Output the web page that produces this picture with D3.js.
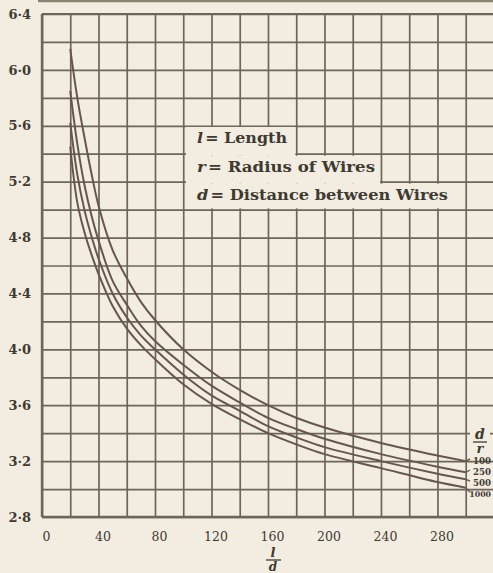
<!DOCTYPE html>
<html>
<head>
<meta charset="utf-8">
<script src="https://cdn.jsdelivr.net/npm/d3@7"></script>
<style>
  html, body { margin: 0; padding: 0; background: #f3ede1; }
  svg { display: block; }
</style>
</head>
<body>
<svg id="chart" width="493" height="573"></svg>
<script>
// ---- data ----
const lengthRatio = [20, 25, 30, 35, 40, 50, 60, 70, 80, 100, 120, 140, 160, 180, 200, 240, 280, 300];
const curve100  = [6.15, 5.80, 5.52, 5.26, 5.03, 4.71, 4.51, 4.34, 4.21, 4.00, 3.84, 3.71, 3.60, 3.51, 3.44, 3.33, 3.24, 3.20];
const curve250  = [5.85, 5.47, 5.18, 4.96, 4.78, 4.49, 4.32, 4.17, 4.06, 3.89, 3.74, 3.62, 3.51, 3.43, 3.36, 3.25, 3.16, 3.12];
const curve500  = [5.62, 5.25, 5.00, 4.81, 4.65, 4.40, 4.23, 4.10, 4.00, 3.82, 3.67, 3.56, 3.45, 3.37, 3.30, 3.20, 3.11, 3.07];
const curve1000 = [5.45, 5.05, 4.84, 4.68, 4.54, 4.31, 4.15, 4.03, 3.93, 3.75, 3.61, 3.50, 3.40, 3.32, 3.25, 3.15, 3.05, 3.01];
const seriesNames = ["100", "250", "500", "1000"];
const xTickLabels = [0, 40, 80, 120, 160, 200, 240, 280];
const yTickLabels = [2.8, 3.2, 3.6, 4.0, 4.4, 4.8, 5.2, 5.6, 6.0, 6.4];
const legendLines = [
  ["l", "= Length"],
  ["r", "= Radius of Wires"],
  ["d", "= Distance between Wires"]
];

const series = [curve100, curve250, curve500, curve1000];

const svg = d3.select("#chart");
const W = 493, H = 573;
const bg = "#f3ede1";
const gridColor = "#6b655a";
const curveColor = "#66574c";
const textColor = "#3f3a32";

svg.append("rect").attr("width", W).attr("height", H).attr("fill", bg);

const x = d3.scaleLinear().domain([0, 300]).range([42, 465.7]);
const y = d3.scaleLinear().domain([2.8, 6.4]).range([517, 14]);

// scan artifact line at very top
svg.append("line").attr("x1", 38).attr("x2", W).attr("y1", 1).attr("y2", 1)
  .attr("stroke", "#8b8272").attr("stroke-width", 2.5);

// grid: vertical lines every 20, horizontal every 0.2
const xGrid = d3.range(0, 301, 20);
const yGrid = d3.range(0, 19).map(i => +(2.8 + i * 0.2).toFixed(1));

const gx = svg.append("g")
  .attr("transform", `translate(0,${y(2.8)})`)
  .call(d3.axisBottom(x).tickValues(xGrid).tickSize(-(y(2.8) - y(6.4))).tickFormat(""));
gx.select(".domain").remove();
gx.selectAll(".tick line").attr("stroke", gridColor).attr("stroke-width", 1.7);

const gy = svg.append("g")
  .attr("transform", `translate(${x(0)},0)`)
  .call(d3.axisLeft(y).tickValues(yGrid).tickSize(-(W - x(0))).tickFormat(""));
gy.select(".domain").remove();
gy.selectAll(".tick line").attr("stroke", gridColor).attr("stroke-width", 1.7);

// heavier axis frame lines
svg.append("line").attr("x1", x(0)).attr("x2", x(0)).attr("y1", y(6.4)).attr("y2", y(2.8))
  .attr("stroke", gridColor).attr("stroke-width", 2.4);
svg.append("line").attr("x1", x(0)).attr("x2", W).attr("y1", y(2.8)).attr("y2", y(2.8))
  .attr("stroke", gridColor).attr("stroke-width", 2.4);
svg.append("line").attr("x1", x(0)).attr("x2", W).attr("y1", y(6.4)).attr("y2", y(6.4))
  .attr("stroke", gridColor).attr("stroke-width", 2);

// tick labels
const fmt = v => v.toFixed(1).replace(".", "\u00b7");
const yl = svg.append("g")
  .attr("transform", `translate(${x(0) - 8},0)`)
  .call(d3.axisLeft(y).tickValues(yTickLabels).tickSize(0).tickFormat(fmt));
yl.select(".domain").remove();
yl.selectAll("text")
  .attr("font-family", "'DejaVu Serif', serif").attr("font-weight", "bold")
  .attr("font-size", 13).attr("fill", textColor);

const xl = svg.append("g")
  .attr("transform", `translate(4,${y(2.8) + 12})`)
  .call(d3.axisBottom(x).tickValues(xTickLabels).tickSize(0).tickFormat(d => d));
xl.select(".domain").remove();
xl.selectAll("text")
  .attr("font-family", "'DejaVu Serif', serif")
  .attr("font-size", 12.5).attr("fill", textColor);

// legend masks (stepped, hiding grid behind text)
const masks = [
  { x0: 186, x1: 180, y0: 5.6, y1: 5.4 },
  { x0: 186, x1: 240, y0: 5.4, y1: 5.2 },
  { x0: 186, x1: 300, y0: 5.2, y1: 5.0 }
];
masks.forEach((m, i) => {
  const top = y(m.y0) + (i === 0 ? 1.2 : 2);
  const bottom = y(m.y1) + (i === 2 ? -1.2 : 2);
  svg.append("rect")
    .attr("x", m.x0).attr("y", top)
    .attr("width", x(m.x1) - m.x0 - 0.9).attr("height", bottom - top)
    .attr("fill", bg);
});

// curves
const line = d3.line()
  .x((d, i) => x(lengthRatio[i]))
  .y(d => y(d))
  .curve(d3.curveCatmullRom.alpha(0.5));

svg.append("g").selectAll("path")
  .data(series)
  .join("path")
  .attr("d", d => line(d))
  .attr("fill", "none")
  .attr("stroke", curveColor)
  .attr("stroke-width", 2);

// legend text
const legendY = [143, 172, 200];
const legendWidth = [90, 178, 251];
legendLines.forEach((l, i) => {
  const t = svg.append("text")
    .attr("x", 197).attr("y", legendY[i])
    .attr("font-family", "'DejaVu Serif', serif")
    .attr("font-size", 15).attr("fill", textColor)
    .attr("textLength", legendWidth[i]).attr("lengthAdjust", "spacingAndGlyphs");
  t.append("tspan").attr("font-style", "italic").attr("font-weight", "bold").text(l[0]);
  t.append("tspan").attr("font-weight", "bold").attr("dx", 2).text(l[1]);
});

// right-side d/r labels
const rg = svg.append("g");
const lastIdx = lengthRatio.length - 1;
const labelY = [460, 471, 482, 493];
series.forEach((s, i) => {
  rg.append("line")
    .attr("x1", x(300)).attr("y1", y(s[lastIdx]))
    .attr("x2", 470).attr("y2", labelY[i] - 1)
    .attr("stroke", curveColor).attr("stroke-width", 1.4);
  rg.append("text")
    .attr("x", 491).attr("y", labelY[i] + 3.5)
    .attr("text-anchor", "end")
    .attr("font-family", "'DejaVu Serif', serif").attr("font-weight", "bold")
    .attr("font-size", seriesNames[i].length === 4 ? 7.8 : 8.6).attr("fill", textColor)
    .text(seriesNames[i]);
});
// d/r fraction
rg.append("rect").attr("x", 470).attr("y", 424).attr("width", 20).attr("height", 30).attr("fill", bg);
rg.append("text").attr("x", 480).attr("y", 439).attr("text-anchor", "middle")
  .attr("font-family", "'DejaVu Serif', serif").attr("font-style", "italic").attr("font-weight", "bold")
  .attr("font-size", 14).attr("fill", textColor).text("d");
rg.append("line").attr("x1", 473).attr("x2", 487).attr("y1", 442).attr("y2", 442)
  .attr("stroke", textColor).attr("stroke-width", 1.3);
rg.append("text").attr("x", 480).attr("y", 453).attr("text-anchor", "middle")
  .attr("font-family", "'DejaVu Serif', serif").attr("font-style", "italic").attr("font-weight", "bold")
  .attr("font-size", 13).attr("fill", textColor).text("r");

// x axis title l/d
svg.append("text").attr("x", 273).attr("y", 557).attr("text-anchor", "middle")
  .attr("font-family", "'DejaVu Serif', serif").attr("font-style", "italic").attr("font-weight", "bold")
  .attr("font-size", 13).attr("fill", textColor).text("l");
svg.append("line").attr("x1", 266).attr("x2", 281).attr("y1", 560).attr("y2", 560)
  .attr("stroke", textColor).attr("stroke-width", 1.3);
svg.append("text").attr("x", 273).attr("y", 571).attr("text-anchor", "middle")
  .attr("font-family", "'DejaVu Serif', serif").attr("font-style", "italic").attr("font-weight", "bold")
  .attr("font-size", 12).attr("fill", textColor).text("d");
</script>
</body>
</html>
